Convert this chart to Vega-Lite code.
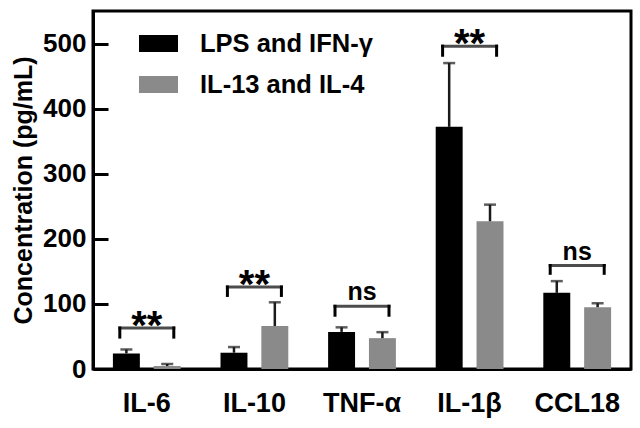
{
  "$schema": "https://vega.github.io/schema/vega-lite/v6.json",
  "width": 538,
  "height": 358,
  "autosize": "none",
  "padding": {"left": 93, "top": 11, "right": 9, "bottom": 59},
  "background": "white",
  "config": {
    "font": "Liberation Sans",
    "view": {"stroke": "black", "strokeWidth": 3},
    "axis": {"grid": false, "domainColor": "black", "domainWidth": 3, "tickColor": "black", "tickWidth": 3, "labelColor": "black", "titleColor": "black", "labelFont": "Liberation Sans", "titleFont": "Liberation Sans", "labelFontWeight": "bold", "titleFontWeight": "bold"},
    "legend": {"labelFont": "Liberation Sans", "labelFontWeight": "bold"}
  },
  "datasets": {
    "bars": [
      {"cytokine": "IL-6", "group": "LPS and IFN-γ", "mean": 24, "upper": 30},
      {"cytokine": "IL-6", "group": "IL-13 and IL-4", "mean": 4.6, "upper": 7.7},
      {"cytokine": "IL-10", "group": "LPS and IFN-γ", "mean": 25, "upper": 33.7},
      {"cytokine": "IL-10", "group": "IL-13 and IL-4", "mean": 66, "upper": 102.5},
      {"cytokine": "TNF-α", "group": "LPS and IFN-γ", "mean": 57, "upper": 64},
      {"cytokine": "TNF-α", "group": "IL-13 and IL-4", "mean": 47.4, "upper": 56.6},
      {"cytokine": "IL-1β", "group": "LPS and IFN-γ", "mean": 372, "upper": 470},
      {"cytokine": "IL-1β", "group": "IL-13 and IL-4", "mean": 227, "upper": 252.5},
      {"cytokine": "CCL18", "group": "LPS and IFN-γ", "mean": 117, "upper": 135},
      {"cytokine": "CCL18", "group": "IL-13 and IL-4", "mean": 95, "upper": 101}
    ],
    "brackets": [
      {"cytokine": "IL-6", "top": 63, "leg": 49, "label": "**"},
      {"cytokine": "IL-10", "top": 126, "leg": 113, "label": "**"},
      {"cytokine": "TNF-α", "top": 96.4, "leg": 82.6, "label": "ns"},
      {"cytokine": "IL-1β", "top": 496, "leg": 482, "label": "**"},
      {"cytokine": "CCL18", "top": 159, "leg": 147, "label": "ns"}
    ]
  },
  "encoding": {
    "x": {
      "field": "cytokine", "type": "nominal",
      "sort": ["IL-6", "IL-10", "TNF-α", "IL-1β", "CCL18"],
      "scale": {"paddingInner": 0.37, "paddingOuter": 0.185},
      "axis": {"title": null, "labelAngle": 0, "ticks": false, "labelFontSize": 27, "labelPadding": 21}
    }
  },
  "layer": [
    {
      "data": {"name": "bars"},
      "mark": {"type": "bar"},
      "encoding": {
        "xOffset": {"field": "group", "type": "nominal", "sort": ["LPS and IFN-γ", "IL-13 and IL-4"], "scale": {"paddingInner": 0.34, "paddingOuter": 0}},
        "y": {
          "field": "mean", "type": "quantitative",
          "scale": {"domain": [0, 550], "nice": false},
          "axis": {"title": "Concentration (pg/mL)", "values": [0, 100, 200, 300, 400, 500], "tickSize": -15, "labelFontSize": 26, "labelPadding": 22, "titleFontSize": 25, "titlePadding": 6}
        },
        "color": {
          "field": "group", "type": "nominal", "sort": ["LPS and IFN-γ", "IL-13 and IL-4"],
          "scale": {"domain": ["LPS and IFN-γ", "IL-13 and IL-4"], "range": ["#000000", "#8a8a8a"]},
          "legend": {"title": null, "orient": "none", "legendX": 46, "legendY": 13, "padding": 0, "symbolType": "M-1,-0.44H1V0.44H-1Z", "symbolSize": 1521, "symbolStrokeWidth": 0, "labelFontSize": 25.5, "labelOffset": 22, "rowPadding": 8, "labelLimit": 400}
        }
      }
    },
    {
      "data": {"name": "bars"},
      "mark": {"type": "rule", "color": "#1a1a1a", "strokeWidth": 2.5},
      "encoding": {
        "xOffset": {"field": "group", "type": "nominal", "sort": ["LPS and IFN-γ", "IL-13 and IL-4"]},
        "y": {"field": "mean", "type": "quantitative"},
        "y2": {"field": "upper"}
      }
    },
    {
      "data": {"name": "bars"},
      "mark": {"type": "tick", "color": "#1a1a1a", "thickness": 2.5, "size": 12},
      "encoding": {
        "xOffset": {"field": "group", "type": "nominal", "sort": ["LPS and IFN-γ", "IL-13 and IL-4"]},
        "y": {"field": "upper", "type": "quantitative"}
      }
    },
    {
      "data": {"name": "brackets"},
      "mark": {"type": "tick", "color": "black", "thickness": 3, "size": 57},
      "encoding": {"y": {"field": "top", "type": "quantitative"}}
    },
    {
      "data": {"name": "brackets"},
      "mark": {"type": "rule", "color": "black", "strokeWidth": 3, "xOffset": -27, "strokeCap": "square"},
      "encoding": {"y": {"field": "top", "type": "quantitative"}, "y2": {"field": "leg"}}
    },
    {
      "data": {"name": "brackets"},
      "mark": {"type": "rule", "color": "black", "strokeWidth": 3, "xOffset": 27, "strokeCap": "square"},
      "encoding": {"y": {"field": "top", "type": "quantitative"}, "y2": {"field": "leg"}}
    },
    {
      "data": {"name": "brackets"},
      "transform": [{"filter": "datum.label === '**'"}],
      "mark": {"type": "text", "fontSize": 40, "fontWeight": "bold", "baseline": "alphabetic", "dy": 11, "color": "black"},
      "encoding": {"y": {"field": "top", "type": "quantitative"}, "text": {"field": "label"}}
    },
    {
      "data": {"name": "brackets"},
      "transform": [{"filter": "datum.label === 'ns'"}],
      "mark": {"type": "text", "fontSize": 25, "fontWeight": "bold", "baseline": "alphabetic", "dy": -6, "color": "black"},
      "encoding": {"y": {"field": "top", "type": "quantitative"}, "text": {"field": "label"}}
    }
  ]
}
